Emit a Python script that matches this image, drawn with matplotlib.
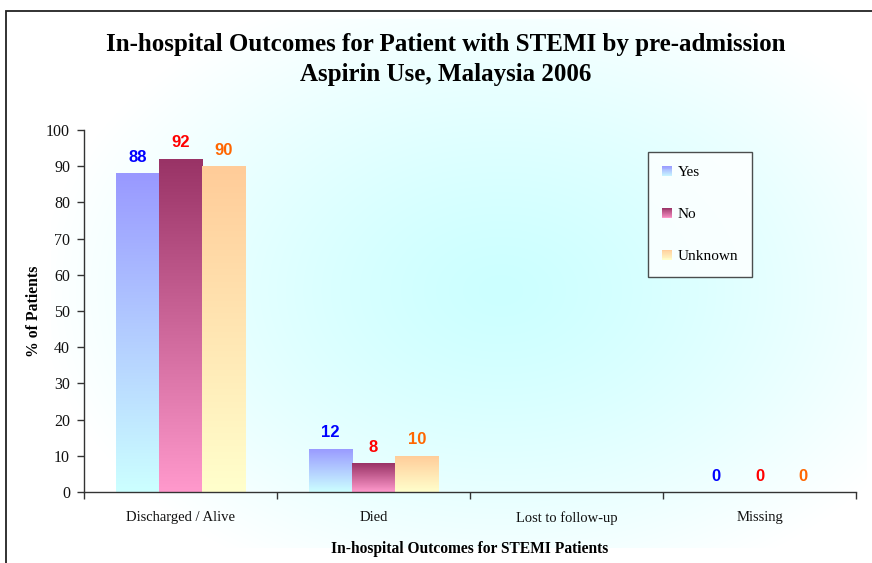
import numpy as np
import matplotlib
matplotlib.use('Agg')
import matplotlib.pyplot as plt
from matplotlib.patches import Rectangle, Patch


# --- data

categories = ['Discharged / Alive', 'Died', 'Lost to follow-up', 'Missing']
series = ['Yes', 'No', 'Unknown']
yes_vals = [88, 12, np.nan, 0]
no_vals = [92, 8, np.nan, 0]
unknown_vals = [90, 10, np.nan, 0]

# gradient colours (top, bottom) and label colours
grad_top = {'Yes': (0.60, 0.60, 1.00), 'No': (0.60, 0.20, 0.40), 'Unknown': (1.00, 0.80, 0.60)}
grad_bot = {'Yes': (0.80, 1.00, 1.00), 'No': (1.00, 0.60, 0.80), 'Unknown': (1.00, 1.00, 0.80)}
label_col = {'Yes': '#0000FF', 'No': '#FF0000', 'Unknown': '#FF6600'}

serif = ['Liberation Serif', 'DejaVu Serif']
sans = ['Liberation Sans', 'DejaVu Sans']

W, H = 872, 563
fig = plt.figure(figsize=(W/100, H/100), dpi=100)
fig.patch.set_facecolor('white')


# --- radial background

bg = fig.add_axes((0, 0, 1, 1), zorder=-5)
bg.axis('off')
yy, xx = np.mgrid[0:H, 0:W]
d = np.sqrt(((xx-500)/460.)**2 + ((yy-290)/320.)**2)
d = np.clip(d, 0, 1)**1.3
centre = np.array([0.80, 1.0, 1.0])
img = centre[None, None, :] + (1-centre)[None, None, :]*d[:, :, None]
inside = (xx > 50) & (xx < 866) & (yy > 18) & (yy < 548)
img[~inside] = 1.0
bg.imshow(img, extent=(0, W, H, 0), aspect='auto', interpolation='bilinear')
bg.set_xlim(0, W)
bg.set_ylim(H, 0)

# frame round the chart
fig.patches.append(Rectangle((6/W, -0.05), 1.2, 1-11/H+0.05, transform=fig.transFigure,
                             fill=False, edgecolor='#222222', lw=1.3, zorder=10))


# --- main axes

left, right = 84/W, 856/W
bottom, top = 1-492/H, 1-130/H
ax = fig.add_axes((left, bottom, right-left, top-bottom))
ax.set_facecolor('none')

x = np.arange(len(categories))
bw = 0.224
values = {'Yes': yes_vals, 'No': no_vals, 'Unknown': unknown_vals}

for j, s in enumerate(series):
    vals = np.array(values[s], dtype=float)
    offs = (j-1)*bw
    bars = ax.bar(x+offs, np.nan_to_num(vals), bw, facecolor='none', edgecolor='none')
    grad = np.linspace(0, 1, 100)[:, None, None]
    g = np.array(grad_top[s])[None, None, :]*(1-grad) + np.array(grad_bot[s])[None, None, :]*grad
    for b, v, xi in zip(bars, vals, x):
        if np.isnan(v):
            continue
        if v > 0:
            im = ax.imshow(g, extent=(xi+offs-bw/2, xi+offs+bw/2, 0, v), aspect='auto',
                           origin='upper', zorder=2, interpolation='bilinear')
            im.set_clip_path(b)
        ax.annotate(f'{v:.0f}', (xi+offs, v), xytext=(0, 11.5), textcoords='offset points',
                    ha='center', va='center', color=label_col[s], fontsize=12,
                    fontweight='bold', family=sans)

ax.set_xlim(-0.5, len(categories)-0.5)
ax.set_ylim(0, 100)

ax.spines['top'].set_visible(False)
ax.spines['right'].set_visible(False)
for sp in ['left', 'bottom']:
    ax.spines[sp].set_color('#333333')
    ax.spines[sp].set_linewidth(1.0)

ax.set_yticks(np.arange(0, 101, 10))
ax.tick_params(axis='y', direction='out', length=5, width=1, color='#333333', pad=5, labelsize=11.5)
for t in ax.get_yticklabels():
    t.set_family(serif)
    t.set_color('#111111')

ax.set_xticks(np.arange(len(categories)+1)-0.5)
ax.set_xticklabels([])
ax.tick_params(axis='x', which='major', direction='out', length=5, width=1, color='#333333')
ax.set_xticks(x, minor=True)
ax.set_xticklabels(categories, minor=True, family=serif, fontsize=10.5, color='#111111')
ax.tick_params(axis='x', which='minor', length=0, pad=14)

ax.set_ylabel('% of Patients', family=serif, fontsize=11.3, fontweight='bold', labelpad=3)
ax.set_xlabel('In-hospital Outcomes for STEMI Patients', family=serif, fontsize=11.2,
              fontweight='bold', labelpad=11)


# --- title

fig.text(446/W, 1-44/H, 'In-hospital Outcomes for Patient with STEMI by pre-admission',
         ha='center', va='center', family=serif, fontsize=18, fontweight='bold')
fig.text(446/W, 1-75/H, 'Aspirin Use, Malaysia 2006',
         ha='center', va='center', family=serif, fontsize=18, fontweight='bold')


# --- legend with gradient swatches

class GradHandler:
    def __init__(self, c_top, c_bot):
        self.c_top = np.array(c_top)
        self.c_bot = np.array(c_bot)

    def legend_artist(self, legend, orig_handle, fontsize, handlebox):
        x0, y0 = handlebox.xdescent, handlebox.ydescent
        w, h = handlebox.width, handlebox.height
        n = 12
        for k in range(n):
            c = self.c_top + (self.c_bot-self.c_top)*(k+0.5)/n
            r = Rectangle((x0, y0+h-(k+1)*h/n), w, h/n, facecolor=c, edgecolor='none',
                          transform=handlebox.get_transform())
            handlebox.add_artist(r)
        return r


handles = [Patch(label=s) for s in series]
hmap = {h: GradHandler(grad_top[s], grad_bot[s]) for h, s in zip(handles, series)}
leg = fig.legend(handles=handles, handler_map=hmap, loc='upper left',
                 bbox_to_anchor=(648/W, 1-152/H), prop={'family': serif, 'size': 11},
                 handlelength=0.68, handleheight=0.68, handletextpad=0.35,
                 labelspacing=1.85, borderpad=0.9, borderaxespad=0, fancybox=False, frameon=True)
leg.get_frame().set_edgecolor('#222222')
leg.get_frame().set_linewidth(1.0)
leg.get_frame().set_facecolor((1, 1, 1, 0.6))

fig.savefig('out.png', dpi=100)
